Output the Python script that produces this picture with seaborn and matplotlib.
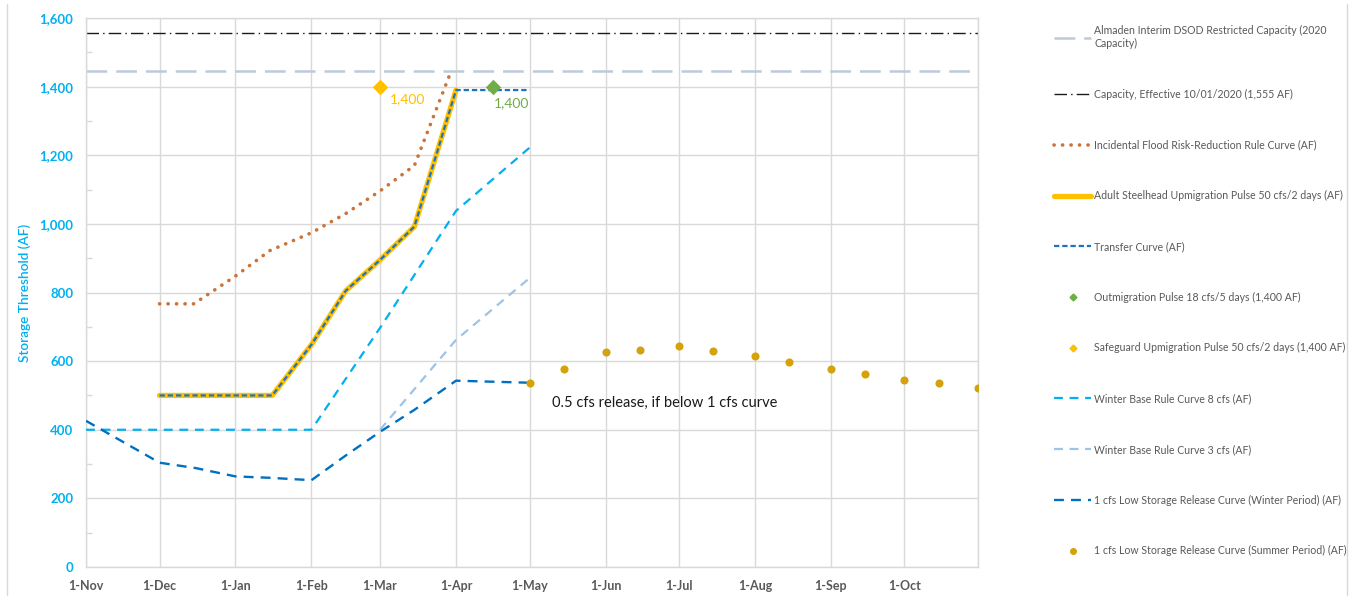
import pandas as pd
import matplotlib
matplotlib.use("Agg")
import matplotlib.pyplot as plt
from matplotlib.lines import Line2D
from matplotlib.ticker import FuncFormatter, MultipleLocator
import seaborn as sns

# ---------------- data (storage thresholds in acre-feet) ----------------
capacity_af = 1555
almaden_interim_af = 1445

flood_dates = ["2020-12-01", "2020-12-15", "2021-01-01", "2021-01-15", "2021-02-01",
               "2021-02-15", "2021-03-01", "2021-03-15", "2021-03-30"]
flood_af = [767, 767, 848, 922, 974, 1030, 1096, 1170, 1445]

steelhead_dates = ["2020-12-01", "2021-01-16", "2021-02-01", "2021-02-15",
                   "2021-03-01", "2021-03-15", "2021-04-01"]
steelhead_af = [500, 500, 648, 805, 895, 992, 1390]

transfer_dates = ["2020-12-01", "2021-01-16", "2021-02-01", "2021-02-15",
                  "2021-03-01", "2021-03-15", "2021-04-01", "2021-05-01"]
transfer_af = [500, 500, 648, 805, 895, 992, 1390, 1390]

winter8_dates = ["2020-11-01", "2021-02-01", "2021-03-01", "2021-04-01", "2021-05-01"]
winter8_af = [400, 400, 697, 1038, 1222]

winter3_dates = ["2021-03-01", "2021-04-01", "2021-05-01"]
winter3_af = [400, 662, 842]

low_winter_dates = ["2020-11-01", "2020-12-01", "2020-12-16", "2021-01-01", "2021-01-15",
                    "2021-02-01", "2021-02-15", "2021-03-01", "2021-03-15", "2021-04-01",
                    "2021-05-01"]
low_winter_af = [426, 304, 288, 264, 260, 253, 325, 394, 458, 543, 537]

low_summer_dates = ["2021-05-01", "2021-05-15", "2021-06-01", "2021-06-15", "2021-07-01",
                    "2021-07-15", "2021-08-01", "2021-08-15", "2021-09-01", "2021-09-15",
                    "2021-10-01", "2021-10-15", "2021-10-31"]
low_summer_af = [537, 577, 627, 633, 643, 630, 615, 598, 578, 563, 545, 535, 521]

safeguard_date = ["2021-03-01"]
safeguard_af = [1400]
outmigration_date = ["2021-04-16"]
outmigration_af = [1400]

month_ticks = ["2020-11-01", "2020-12-01", "2021-01-01", "2021-02-01", "2021-03-01",
               "2021-04-01", "2021-05-01", "2021-06-01", "2021-07-01", "2021-08-01",
               "2021-09-01", "2021-10-01", "2021-10-31"]
month_labels = ["1-Nov", "1-Dec", "1-Jan", "1-Feb", "1-Mar", "1-Apr", "1-May",
                "1-Jun", "1-Jul", "1-Aug", "1-Sep", "1-Oct", ""]

# ---------------- styling ----------------
C_ALMADEN = "#BCCADB"
C_CAP = "#1A1A1A"
C_FLOOD = "#C8743C"
C_YELLOW = "#FFC000"
C_TRANSFER = "#1F72C0"
C_GREEN = "#70AD47"
C_W8 = "#00B0F0"
C_W3 = "#9DC3E6"
C_LOW = "#0070C0"
C_SUMMER = "#D4A20A"
C_GRID = "#D9D9D9"
C_TEXT = "#595959"

sns.set_theme(style="white")
plt.rcParams["font.family"] = ["Lato", "DejaVu Sans"]

W, H = 1356, 597
fig = plt.figure(figsize=(W / 100, H / 100), dpi=100)
ax = fig.add_axes([86 / W, 30 / H, (978 - 86) / W, (567 - 18) / H])

d = pd.to_datetime

ls_almaden = (0, (8.3, 3.6))
ls_cap = (0, (9, 3, 1, 3))
ls_flood = (0, (0.05, 2.3))
ls_transfer = (0, (2.4, 1.3))
ls_w = (0, (4.0, 3.0))
ls_low = (0, (4.2, 3.0))

# reference levels
ax.axhline(almaden_interim_af, color=C_ALMADEN, lw=1.8, linestyle=ls_almaden, zorder=2)
ax.axhline(capacity_af, color=C_CAP, lw=1.0, linestyle=ls_cap, zorder=2)

# rule curves
sns.lineplot(x=d(winter3_dates), y=winter3_af, ax=ax, color=C_W3, lw=1.6,
             linestyle=ls_w, estimator=None, zorder=3)
sns.lineplot(x=d(winter8_dates), y=winter8_af, ax=ax, color=C_W8, lw=1.6,
             linestyle=ls_w, estimator=None, zorder=3)
sns.lineplot(x=d(low_winter_dates), y=low_winter_af, ax=ax, color=C_LOW, lw=1.7,
             linestyle=ls_low, estimator=None, zorder=3)
sns.lineplot(x=d(flood_dates), y=flood_af, ax=ax, color=C_FLOOD, lw=2.6,
             linestyle=ls_flood, dash_capstyle="round", estimator=None, zorder=4)
sns.lineplot(x=d(steelhead_dates), y=steelhead_af, ax=ax, color=C_YELLOW, lw=3.8,
             estimator=None, zorder=4)
sns.lineplot(x=d(transfer_dates), y=transfer_af, ax=ax, color=C_TRANSFER, lw=1.6,
             linestyle=ls_transfer, estimator=None, zorder=5)

# point markers
sns.scatterplot(x=d(low_summer_dates), y=low_summer_af, ax=ax, color=C_SUMMER,
                s=34, linewidth=0, zorder=6)
sns.scatterplot(x=d(safeguard_date), y=safeguard_af, ax=ax, color=C_YELLOW,
                marker="D", s=62, linewidth=0, zorder=6)
sns.scatterplot(x=d(outmigration_date), y=outmigration_af, ax=ax, color=C_GREEN,
                marker="D", s=62, linewidth=0, zorder=6)

ax.annotate(f"{safeguard_af[0]:,}", (d(safeguard_date[0]), safeguard_af[0]),
            xytext=(10, -13), textcoords="offset pixels", ha="left", va="center",
            color=C_YELLOW, fontsize=10)
ax.annotate(f"{outmigration_af[0]:,}", (d(outmigration_date[0]), outmigration_af[0]),
            xytext=(1, -17), textcoords="offset pixels", ha="left", va="center",
            color=C_GREEN, fontsize=10)
ax.text(d("2021-05-10"), 478, "0.5 cfs release, if below 1 cfs curve",
        ha="left", va="center", fontsize=10.5, color="#1A1A1A")

# axes
ax.set_xlim(d(month_ticks[0]), d(month_ticks[-1]))
ax.set_ylim(0, 1600)
ax.set_xticks(d(month_ticks))
ax.set_xticklabels(month_labels)
ax.yaxis.set_major_locator(MultipleLocator(200))
ax.yaxis.set_minor_locator(MultipleLocator(100))
ax.yaxis.set_major_formatter(FuncFormatter(lambda v, p: f"{v:,.0f}"))

ax.grid(True, which="major", color=C_GRID, lw=1.0, zorder=0)
ax.set_axisbelow(True)
for s in ax.spines.values():
    s.set_color(C_GRID)
    s.set_linewidth(1.0)

ax.tick_params(axis="x", direction="out", length=5, width=1, color=C_GRID, pad=4,
               labelsize=9, labelcolor=C_TEXT)
ax.tick_params(axis="y", which="major", length=0, pad=9, labelsize=9.5, labelcolor=C_W8)
ax.tick_params(axis="y", which="minor", direction="in", length=4, width=1, color=C_GRID, left=True)
for t in ax.get_xticklabels():
    t.set_fontweight("bold")
for t in ax.get_yticklabels():
    t.set_fontweight("bold")

ax.set_xlabel("")
ax.set_ylabel("Storage Threshold (AF)", color=C_W8, fontsize=9.8, fontweight="semibold",
              labelpad=6)

# legend
handles = [
    Line2D([], [], color=C_ALMADEN, lw=1.8, linestyle=ls_almaden),
    Line2D([], [], color=C_CAP, lw=1.0, linestyle=ls_cap),
    Line2D([], [], color=C_FLOOD, lw=2.6, linestyle=ls_flood, dash_capstyle="round"),
    Line2D([], [], color=C_YELLOW, lw=3.8),
    Line2D([], [], color=C_TRANSFER, lw=1.6, linestyle=ls_transfer),
    Line2D([], [], color=C_GREEN, lw=0, marker="D", markersize=3.5),
    Line2D([], [], color=C_YELLOW, lw=0, marker="D", markersize=3.5),
    Line2D([], [], color=C_W8, lw=1.6, linestyle=ls_w),
    Line2D([], [], color=C_W3, lw=1.6, linestyle=ls_w),
    Line2D([], [], color=C_LOW, lw=1.7, linestyle=ls_low),
    Line2D([], [], color=C_SUMMER, lw=0, marker="o", markersize=4),
]
labels = [
    "Almaden Interim DSOD Restricted Capacity (2020\nCapacity)",
    "Capacity, Effective 10/01/2020 (1,555 AF)",
    "Incidental Flood Risk-Reduction Rule Curve (AF)",
    "Adult Steelhead Upmigration Pulse 50 cfs/2 days (AF)",
    "Transfer Curve (AF)",
    "Outmigration Pulse 18 cfs/5 days (1,400 AF)",
    "Safeguard Upmigration Pulse 50 cfs/2 days (1,400 AF)",
    "Winter Base Rule Curve 8 cfs (AF)",
    "Winter Base Rule Curve 3 cfs (AF)",
    "1 cfs Low Storage Release Curve (Winter Period) (AF)",
    "1 cfs Low Storage Release Curve (Summer Period) (AF)",
]
leg = fig.legend(handles, labels, loc="upper left", bbox_to_anchor=(1050 / W, 1 - 21 / H),
                 frameon=False, handlelength=3.5, handletextpad=0.28, labelspacing=3.76,
                 borderaxespad=0, prop={"family": ["Lato", "DejaVu Sans"], "size": 7.6})
for t in leg.get_texts():
    t.set_color(C_TEXT)

# chart-area border
for xpix in (7, 1347):
    fig.add_artist(Line2D([xpix / W, xpix / W], [2 / H, 593 / H], color=C_GRID, lw=1.0,
                          transform=fig.transFigure))

fig.savefig("out.png", dpi=100)
